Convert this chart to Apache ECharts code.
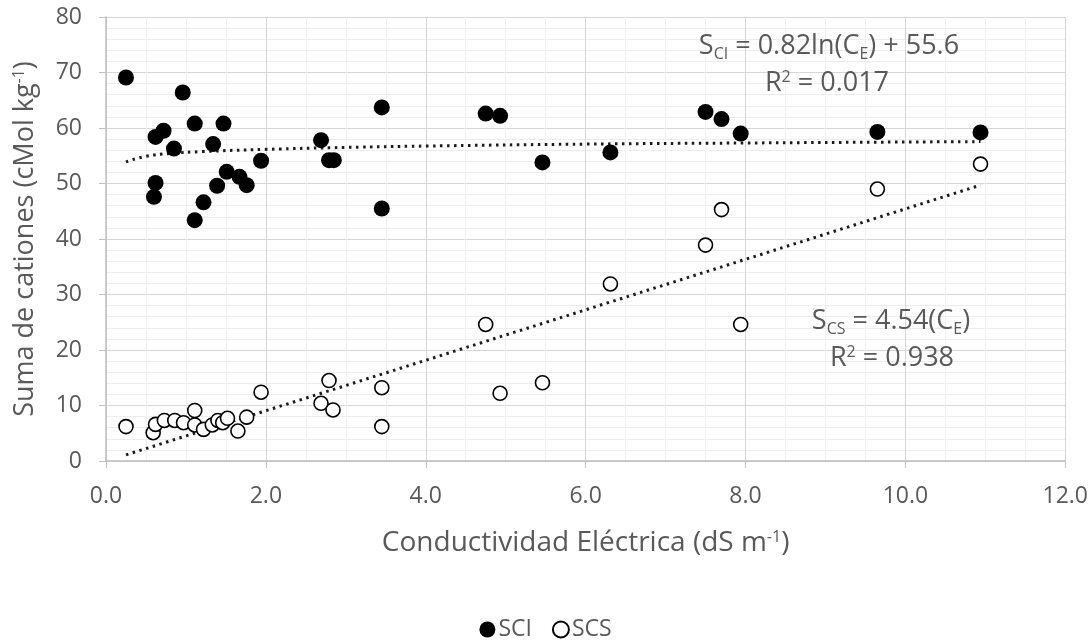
<!DOCTYPE html>
<html>
<head>
<meta charset="UTF-8"/>
<script src="https://cdn.jsdelivr.net/npm/echarts@6/dist/echarts.min.js"></script>
<style>
	html, body { margin:0; padding:0; background:#fff; }
	#chart { width:1091px; height:643px; }
</style>
</head>
<body>
<div id="chart"></div>
<script type="text/javascript">
// conductividad eléctrica (dS m-1) de cada muestra
var ceSCI = [0.25, 0.96, 1.11, 1.47, 0.62, 0.72, 0.85, 1.34, 0.62, 0.60, 1.22, 1.11, 1.39, 1.51, 1.67, 1.76,
	1.94, 2.69, 2.79, 2.85, 3.45, 3.45, 4.75, 4.93, 5.46, 6.31, 7.50, 7.70, 7.94, 9.65, 10.94];
var valSCI = [69.1, 66.4, 60.8, 60.8, 58.4, 59.5, 56.3, 57.1, 50.1, 47.6, 46.6, 43.4, 49.6, 52.1, 51.2, 49.7,
	54.1, 57.8, 54.2, 54.2, 63.7, 45.5, 62.6, 62.2, 53.8, 55.6, 62.9, 61.6, 59.0, 59.3, 59.2];

var ceSCS = [0.25, 0.59, 0.62, 0.73, 0.86, 0.97, 1.11, 1.11, 1.22, 1.33, 1.40, 1.46, 1.52, 1.65, 1.76, 1.94,
	2.69, 2.79, 2.84, 3.45, 3.45, 4.75, 4.93, 5.46, 6.31, 7.50, 7.70, 7.94, 9.65, 10.94];
var valSCS = [6.2, 5.1, 6.6, 7.3, 7.3, 6.9, 9.1, 6.5, 5.7, 6.5, 7.3, 6.9, 7.7, 5.4, 7.9, 12.4,
	10.4, 14.5, 9.2, 13.2, 6.2, 24.6, 12.2, 14.1, 31.9, 38.9, 45.3, 24.6, 49.0, 53.5];

// lineas de tendencia
var trendSCIx = [0.25, 0.5, 0.8, 1.2, 2.0, 3.0, 4.0, 6.0, 8.0, 10.94];
var trendSCIy = [53.9, 54.9, 55.4, 55.75, 56.15, 56.5, 56.75, 57.1, 57.3, 57.55];
var trendSCSx = [0.25, 10.94];
var trendSCSy = [1.1, 49.7];

var xTicks = [0, 2, 4, 6, 8, 10, 12];
var yTicks = [0, 10, 20, 30, 40, 50, 60, 70, 80];

function pairs(xs, ys){
	var out = [];
	for(var i=0;i<xs.length;i++){
		out.push([xs[i], ys[i]]);
	}
	return out;
}

var txtColor = '#595959';
var fontFam = '"Open Sans", sans-serif';

// estilos para ecuaciones con sub/superindices
var eqRich = {
	m: { fontSize: 27, fontWeight: 'normal', color: txtColor, fontFamily: fontFam, lineHeight: 34 },
	s: { fontSize: 16, fontWeight: 'normal', color: txtColor, fontFamily: fontFam, lineHeight: 34, verticalAlign: 'bottom', padding: [0,0,1,0] },
	p: { fontSize: 16, fontWeight: 'normal', color: txtColor, fontFamily: fontFam, lineHeight: 34, verticalAlign: 'top', padding: [3,0,0,0] }
};

var chart = echarts.init(document.getElementById('chart'));
var option = {
	animation: false,
	textStyle: { fontFamily: fontFam },
	grid: { left: 106, right: 21, top: 17, bottom: 182 },
	title: [
		{ text: '{m|S}{s|CI}{m| = 0.82ln(C}{s|E}{m|) + 55.6}', left: 829, textAlign: 'center', top: 29, padding: 0, textStyle: { fontWeight: 'normal', rich: eqRich } },
		{ text: '{m|R}{p|2}{m| = 0.017}', left: 827, textAlign: 'center', top: 66, padding: 0, textStyle: { fontWeight: 'normal', rich: eqRich } },
		{ text: '{m|S}{s|CS}{m| = 4.54(C}{s|E}{m|)}', left: 891, textAlign: 'center', top: 304, padding: 0, textStyle: { fontWeight: 'normal', rich: eqRich } },
		{ text: '{m|R}{p|2}{m| = 0.938}', left: 892, textAlign: 'center', top: 341, padding: 0, textStyle: { fontWeight: 'normal', rich: eqRich } }
	],
	legend: {
		data: ['SCI', 'SCS'],
		bottom: -3,
		left: 'center',
		itemWidth: 16,
		itemHeight: 16,
		itemGap: 20,
		textStyle: { color: txtColor, fontSize: 23, fontFamily: fontFam, padding: [0,0,0,-2] }
	},
	xAxis: {
		type: 'value',
		min: xTicks[0],
		max: xTicks[xTicks.length-1],
		interval: 2,
		name: '{t|Conductividad Eléctrica (dS m}{sup|-1}{t|)}',
		nameLocation: 'middle',
		nameGap: 64,
		nameTextStyle: {
			rich: {
				t: { fontSize: 28, color: txtColor, fontFamily: fontFam, lineHeight: 36 },
				sup: { fontSize: 16, color: txtColor, fontFamily: fontFam, lineHeight: 36, verticalAlign: 'top', padding: [4,0,0,0] }
			}
		},
		axisLine: { show: true, onZero: false, lineStyle: { color: '#bfbfbf', width: 1.5 } },
		axisTick: { show: true, length: 7, lineStyle: { color: '#bfbfbf' } },
		axisLabel: {
			color: txtColor, fontSize: 23, margin: 24,
			formatter: function(v){ return v.toFixed(1); }
		},
		splitLine: { show: true, lineStyle: { color: '#d6d6d6', width: 1 } },
		minorTick: { show: false, splitNumber: 4 },
		minorSplitLine: { show: true, lineStyle: { color: '#f1f1f1', width: 1 } }
	},
	yAxis: {
		type: 'value',
		min: yTicks[0],
		max: yTicks[yTicks.length-1],
		interval: 10,
		name: '{t|Suma de cationes (cMol kg}{sup|-1}{t|)}',
		nameLocation: 'middle',
		nameGap: 64,
		nameRotate: 90,
		nameTextStyle: {
			rich: {
				t: { fontSize: 27, color: txtColor, fontFamily: fontFam, lineHeight: 34 },
				sup: { fontSize: 16, color: txtColor, fontFamily: fontFam, lineHeight: 34, verticalAlign: 'top', padding: [3,0,0,0] }
			}
		},
		axisLine: { show: true, lineStyle: { color: '#bfbfbf', width: 1.5 } },
		axisTick: { show: true, length: 7, lineStyle: { color: '#bfbfbf' } },
		axisLabel: { color: txtColor, fontSize: 23, margin: 24 },
		splitLine: { show: true, lineStyle: { color: '#d6d6d6', width: 1 } },
		minorTick: { show: false, splitNumber: 5 },
		minorSplitLine: { show: true, lineStyle: { color: '#ededed', width: 1 } }
	},
	series: [
		{
			name: 'trendSCI',
			type: 'line',
			smooth: true,
			showSymbol: false,
			symbol: 'none',
			silent: true,
			z: 1,
			lineStyle: { color: '#1a1a1a', width: 3, type: [2.5, 4.5] },
			data: pairs(trendSCIx, trendSCIy)
		},
		{
			name: 'trendSCS',
			type: 'line',
			showSymbol: false,
			symbol: 'none',
			silent: true,
			z: 1,
			lineStyle: { color: '#1a1a1a', width: 3, type: [2.5, 4.5] },
			data: pairs(trendSCSx, trendSCSy)
		},
		{
			name: 'SCI',
			type: 'scatter',
			symbol: 'circle',
			symbolSize: 16,
			z: 3,
			itemStyle: { color: '#000', opacity: 1 },
			data: pairs(ceSCI, valSCI)
		},
		{
			name: 'SCS',
			type: 'scatter',
			symbol: 'circle',
			symbolSize: 14,
			z: 3,
			itemStyle: { color: '#fff', borderColor: '#000', borderWidth: 1.6, opacity: 1 },
			data: pairs(ceSCS, valSCS)
		}
	]
};
chart.setOption(option);
</script>
</body>
</html>
